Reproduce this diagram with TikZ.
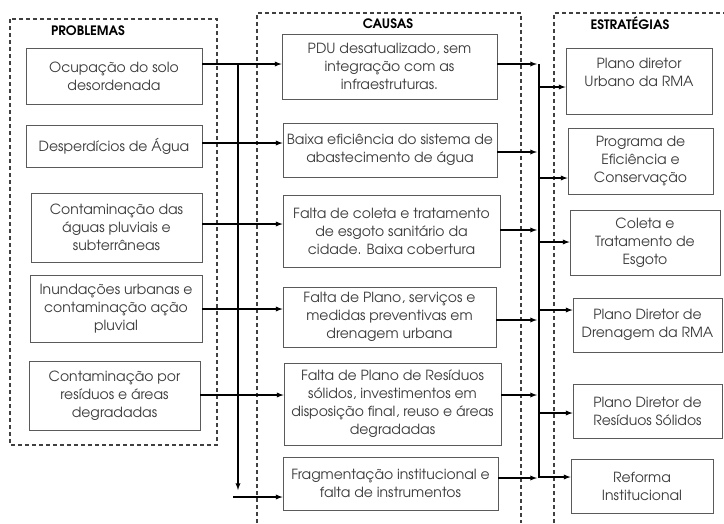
\documentclass[tikz,border=0pt]{standalone}
\usepackage{fontspec}
\setmainfont{TeX Gyre Adventor}
\usetikzlibrary{positioning, arrows.meta}
\definecolor{txtgray}{HTML}{3A3A3A}
\definecolor{linegray}{HTML}{5A5A5A}

\begin{document}
\begin{tikzpicture}[x=1pt, y=-1pt,
    bx/.style 2 args={draw=linegray, line width=0.8pt, text=txtgray, align=center, minimum width=#1pt, minimum height=#2pt, inner sep=1pt, font=\fontsize{14}{18}\selectfont},
    ttl/.style={font=\fontsize{13}{14}\selectfont\bfseries, text=black},
    frm/.style={draw=black!75, line width=1.1pt, dash pattern=on 4pt off 3pt},
    ln/.style={line width=1.3pt},
    ]
    \useasboundingbox (0,0) rectangle (724,523);

	% Dashed frames
	\draw[frm] (10,19) rectangle (217,445);
	\draw[frm] (257,523) -- (257,13) -- (521,13) -- (521,523);
	\draw[frm] (554,523) -- (554,13) -- (724,13);

	% Titles
	\node[ttl] (tprob) at (88,31) {PROBLEMAS};
	\node[ttl] (tcaus) at (388,24) {CAUSAS};
	\node[ttl] (testr) at (630,23) {ESTRATÉGIAS};

	% Problems
	\node[bx={176}{56}] (p1) at (114,76) {Ocupação do solo\\desordenada};
	\node[bx={176}{42}] (p2) at (114,146) {Desperdícios de Água};
	\node[bx={171}{69}] (p3) at (116.5,227.5) {Contaminação das\\águas pluviais e\\subterrâneas};
	\node[bx={172}{67}] (p4) at (116,308.5) {Inundações urbanas e\\contaminação ação\\pluvial};
	\node[bx={171}{69}] (p5) at (114.5,395.5) {Contaminação por\\resíduos e áreas\\degradadas};

	% Causes
	\node[bx={215}{65}] (c1) at (389.5,66.5) {PDU desatualizado, sem\\integração com as\\infraestruturas.};
	\node[bx={214}{54}] (c2) at (390,150) {Baixa eficiência do sistema de\\abastecimento de água};
	\node[bx={217}{72}] (c3) at (391.5,231) {Falta de coleta e tratamento\\de esgoto sanitário da\\cidade. Baixa cobertura};
	\node[bx={213}{60}] (c4) at (389.5,317) {Falta de Plano, serviços e\\medidas preventivas em\\drenagem urbana};
	\node[bx={217}{82}] (c5) at (392.5,404) {Falta de Plano de Resíduos\\sólidos, investimentos em\\disposição final, reuso e áreas\\degradadas};
	\node[bx={215}{53}] (c6) at (390.5,483.5) {Fragmentação institucional e\\falta de instrumentos};

	% Strategies
	\node[bx={146}{66}] (s1) at (639,81) {Plano diretor\\Urbano da RMA\\\mbox{}};
	\node[bx={145}{66}] (s2) at (640.5,161) {Programa de\\Eficiência e\\Conservação};
	\node[bx={150}{65}] (s3) at (645,242.5) {Coleta e\\Tratamento de\\Esgoto};
	\node[bx={149}{54}] (s4) at (647.5,325) {Plano Diretor de\\Drenagem da RMA};
	\node[bx={149}{54}] (s5) at (647.5,411) {Plano Diretor de\\Resíduos Sólidos};
	\node[bx={142}{54}] (s6) at (642,486) {Reforma\\Institucional};

	% Problems -> causes, with the left bus
	\foreach \i/\y in {1/64, 2/143, 3/224, 4/309, 5/395}{
		\coordinate (j\i) at (238,\y);
		\draw[ln, -latex] (p\i.east |- j\i) -- (c\i.west |- j\i);
	}
	\coordinate (jb) at (238,490);
	\draw[ln, -latex] (j1) -- (jb);
	\coordinate (j6) at (233,497);
	\draw[ln, -latex] (j6) -- (c6.west |- j6);

	% Causes -> right bus
	\foreach \i/\y in {1/64, 2/152, 3/230, 4/320, 5/395, 6/478}{
		\coordinate (k\i) at (537,\y);
		\draw[ln, -latex] (c\i.east |- k\i) -- (k\i);
	}
	\coordinate (kt) at (539,64);
	\coordinate (kb) at (539,478);
	\draw[ln] (kt) -- (kb);

	% Right bus -> strategies
	\foreach \i/\y in {1/87, 2/178, 3/242, 4/310, 5/413, 6/477}{
		\coordinate (m\i) at (539,\y);
		\draw[ln, -latex] (m\i) -- (s\i.west |- m\i);
	}
\end{tikzpicture}
\end{document}
